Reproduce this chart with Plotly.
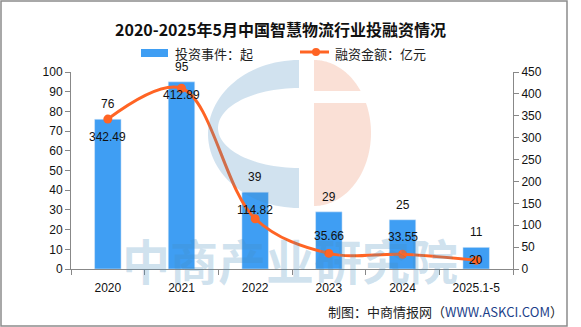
import numpy as np
import plotly.graph_objects as go

# ---- data ----
years = ["2020", "2021", "2022", "2023", "2024", "2025.1-5"]
events = [76, 95, 39, 29, 25, 11]
amounts = [342.49, 412.89, 114.82, 35.66, 33.55, 20]
amount_labels = ["342.49", "412.89", "114.82", "35.66", "33.55", "20"]
amount_label_shift = [-18, -7, 9, 17, 17, 0]

title = "2020-2025年5月中国智慧物流行业投融资情况"
bar_name = "投资事件：起"
line_name = "融资金额：亿元"
source = "制图：中商情报网（<span style='color:#1d3f8a'>WWW.ASKCI.COM</span>）"
watermark = "中商产业研究院"

BAR_C = "#3F9EF3"
LINE_C = "#FF6424"
FONT = "Liberation Sans"
CJK = "Noto Sans CJK SC"

W, H = 581, 327
L, R, T, B = 71, 68, 72, 58
PW, PH = W - L - R, H - T - B

idx = list(range(len(years)))
bounds = [i - 0.5 for i in range(len(years) + 1)]


def px(x):
    return (x - L) / PW


def py(y):
    return (H - B - y) / PH


def path(points):
    return "M " + " L ".join(f"{px(x):.4f},{py(y):.4f}" for x, y in points) + " Z"


def arc(cx, cy, rx, ry, a0, a1, n=60):
    t = np.radians(np.linspace(a0, a1, n))
    return [(float(a), float(b)) for a, b in zip(cx + rx * np.cos(t), cy + ry * np.sin(t))]


fig = go.Figure()
fig.add_trace(go.Bar(x=idx, y=events, name=bar_name, marker_color=BAR_C,
                     width=0.36, yaxis="y"))
fig.add_trace(go.Scatter(x=idx, y=amounts, name=line_name, yaxis="y2",
                         mode="lines+markers",
                         line=dict(color=LINE_C, width=3, shape="spline", smoothing=1.0),
                         marker=dict(color=LINE_C, size=9)))

ann = []
for x, v in zip(idx, events):
    ann.append(dict(x=x, y=v, xref="x", yref="y", text=str(v), showarrow=False,
                    xanchor="center", yanchor="middle",
                    yshift=15, font=dict(family=FONT, size=12, color="#111")))
for x, v, t, s in zip(idx, amounts, amount_labels, amount_label_shift):
    ann.append(dict(x=x, y=v, xref="x", yref="y2", text=t, showarrow=False,
                    xanchor="center", yanchor="middle",
                    yshift=s, font=dict(family=FONT, size=12, color="#111")))


def txt(x, y, text, size, xanchor="center", color="#222"):
    return dict(x=px(x), y=py(y), xref="paper", yref="paper", showarrow=False,
                xanchor=xanchor, yanchor="middle", text=text,
                font=dict(family=CJK, size=size, color=color))


ann.append(txt(280, 29, f"<b>{title}</b>", 16, color="#111"))
ann.append(txt(173, 53, bar_name, 13, "left"))
ann.append(txt(333, 53, line_name, 13, "left"))
ann.append(txt(565, 311, source, 13, "right"))
ann.append(txt(290, 259, f"<b>{watermark}</b>", 48, color="rgba(70,140,190,0.25)"))

shapes = []
blue = "rgba(70,140,190,0.25)"
orange = "rgba(235,131,91,0.25)"
cpts = arc(299, 134, 91, 74, -90, -270) + arc(299, 128, 81, 40, 90, 270)
shapes.append(dict(type="path", xref="paper", yref="paper", path=path(cpts),
                   fillcolor=blue, line=dict(width=0), layer="above"))
a_top = float(np.degrees(np.arcsin((91 - 133) / 73)))
a_bot = float(np.degrees(np.arcsin((103 - 133) / 73)))
top_pts = arc(314, 133, 57, 73, -90, a_top) + [(314, 91)]
bot_pts = [(314, 103)] + arc(314, 133, 57, 73, a_bot, 90)
for pts in (top_pts, bot_pts):
    shapes.append(dict(type="path", xref="paper", yref="paper", path=path(pts),
                       fillcolor=orange, line=dict(width=0), layer="above"))

shapes.append(dict(type="rect", xref="paper", yref="paper", x0=px(141), x1=px(168),
                   y0=py(49), y1=py(57), fillcolor=BAR_C, line=dict(width=0)))
shapes.append(dict(type="line", xref="paper", yref="paper", x0=px(300), x1=px(329),
                   y0=py(52), y1=py(52), line=dict(color=LINE_C, width=3)))
shapes.append(dict(type="circle", xref="paper", yref="paper", x0=px(312), x1=px(320),
                   y0=py(48), y1=py(56), fillcolor=LINE_C, line=dict(width=0)))
shapes.append(dict(type="rect", xref="paper", yref="paper", x0=px(1), x1=px(567),
                   y0=py(326), y1=py(1), line=dict(color="#8c8c8c", width=1.5)))

axis_common = dict(showline=True, linecolor="#888", linewidth=1,
                   ticklen=5, tickcolor="#888", showgrid=False, zeroline=False,
                   automargin=False,
                   tickfont=dict(family=FONT, size=12, color="#111"))

fig.update_layout(
    width=W, height=H, margin=dict(l=L, r=R, t=T, b=B, autoexpand=False),
    paper_bgcolor="white", plot_bgcolor="white", showlegend=False,
    xaxis=dict(**axis_common, type="linear", range=[-0.5, len(years) - 0.5],
               tickmode="array", tickvals=idx, ticktext=years, ticks="",
               ticklabelstandoff=8,
               minor=dict(tickmode="array", tickvals=bounds, ticks="outside",
                          ticklen=5, tickcolor="#888", showgrid=False)),
    yaxis=dict(**axis_common, ticks="outside", range=[0, 100], dtick=10),
    yaxis2=dict(**axis_common, ticks="outside", range=[0, 450], dtick=50,
                overlaying="y", side="right"),
    annotations=ann, shapes=shapes,
)

fig.write_html("out.html")
